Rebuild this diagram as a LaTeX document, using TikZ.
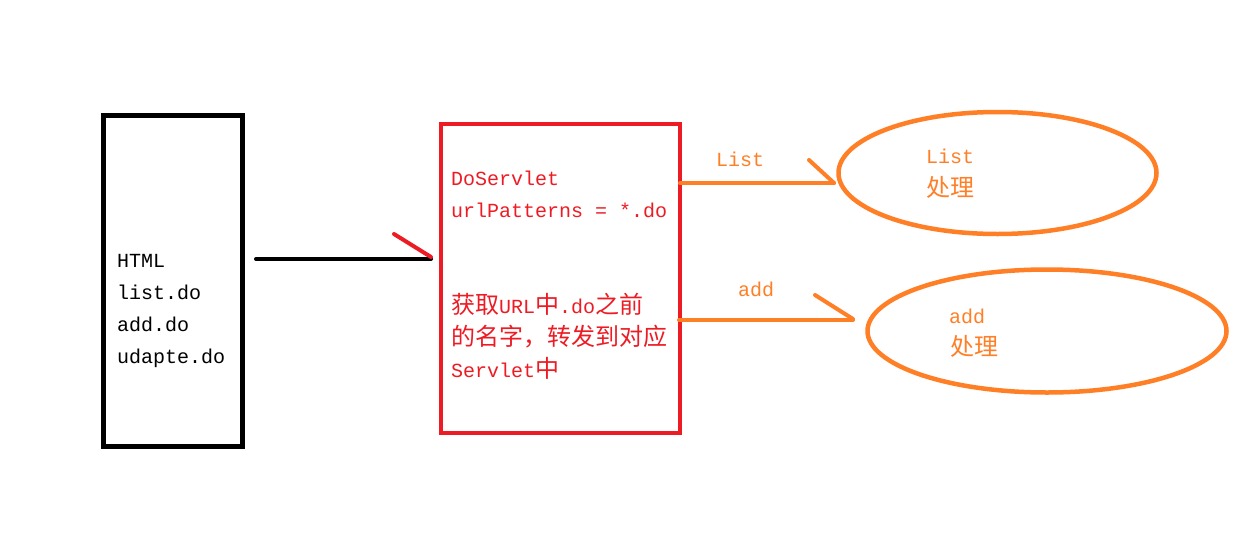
\documentclass[tikz,border=0pt]{standalone}
\usepackage{fontspec}
\usetikzlibrary{shapes.geometric}
\setmainfont{Liberation Mono}
\newfontfamily\cjk{Noto Sans CJK SC}
\newcommand{\cjkt}[1]{{\cjk\fontsize{24}{24}\selectfont #1}}
\definecolor{myred}{RGB}{237,28,36}
\definecolor{myorange}{RGB}{255,127,39}
\begin{document}
\begin{tikzpicture}[x=1pt,y=-1pt,
  boxnode/.style={draw,rectangle,inner sep=0pt},
  ellnode/.style={draw=myorange,ellipse,line width=4.5pt,inner sep=0pt},
  txt/.style={anchor=base west,inner sep=0pt,font=\fontsize{20}{24}\selectfont},
  conn/.style={line width=4pt,line cap=round}]
\useasboundingbox (0,0) rectangle (1246,554);
\fill[white] (0,0) rectangle (1246,554);
% boxes
\node[boxnode,line width=5pt,minimum width=139pt,minimum height=331pt] (html) at (172.5,280.5) {};
\node[boxnode,draw=myred,line width=4pt,minimum width=239pt,minimum height=309pt] (servlet) at (560,278.5) {};
\node[ellnode,minimum width=318pt,minimum height=122pt] (elist) at (997.5,173) {};
\node[ellnode,minimum width=359pt,minimum height=123pt] (eadd) at (1047,331) {};
% left texts
\node[txt] (t1) at (117,267) {HTML};
\node[txt] (t2) at (117,299) {list.do};
\node[txt] (t3) at (117,331) {add.do};
\node[txt] (t4) at (117,363) {udapte.do};
% red texts
\begin{scope}[every node/.append style={text=myred}]
\node[txt] (s1) at (451,185) {DoServlet};
\node[txt] (s2) at (451,217) {urlPatterns = *.do};
\node[txt] (s3) at (451,313) {\cjkt{获取}URL\cjkt{中}.do\cjkt{之前}};
\node[txt] (s4) at (451,345) {\cjkt{的名字，转发到对应}};
\node[txt] (s5) at (451,377) {Servlet\cjkt{中}};
\end{scope}
% orange texts
\begin{scope}[every node/.append style={text=myorange}]
\node[txt] (l1) at (716,166) {List};
\node[txt] (l2) at (738,296) {add};
\node[txt] (e1) at (926,163) {List};
\node[txt] (e2) at (926,196) {\cjkt{处理}};
\node[txt] (e3) at (949,323) {add};
\node[txt] (e4) at (950,355) {\cjkt{处理}};
\end{scope}
% connectors
\coordinate (a1s) at (256,259);
\coordinate (a1e) at (431,259);
\draw[conn] (a1s) -- (a1e);
\draw[conn,myred] (a1e) ++(0,-2) -- ++(-37,-23);
\coordinate (b1s) at (680,183);
\coordinate (b1e) at (834,183);
\draw[conn,myorange] (b1s) -- (b1e);
\draw[conn,myorange] (b1e) -- ++(-25,-23);
\coordinate (c1s) at (679,320);
\coordinate (c1e) at (853,320);
\draw[conn,myorange] (c1s) -- (c1e);
\draw[conn,myorange] (c1e) ++(0,-1) -- ++(-38,-24);
\end{tikzpicture}
\end{document}
